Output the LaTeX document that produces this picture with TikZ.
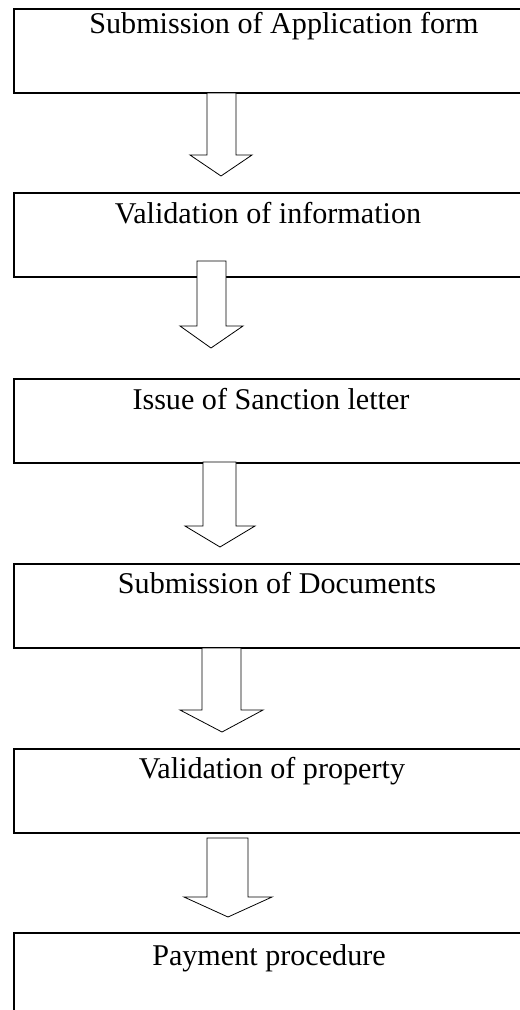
\documentclass[tikz,border=0pt]{standalone}
\usepackage{fontspec}
\setmainfont{Liberation Serif}
\usetikzlibrary{positioning}
\tikzset{
  stagebox/.style={draw, line width=1pt, rectangle, minimum width=387pt,
    minimum height=63pt, inner sep=0pt, outer sep=0pt},
  stagetext/.style={anchor=base, inner sep=0pt, font=\fontsize{22.6}{27}\selectfont},
  blockarrow/.style={draw, line width=0.6pt, fill=white, line join=miter}
}
\begin{document}
\begin{tikzpicture}[x=0.75pt, y=-0.75pt]
\clip (0,0) rectangle (520,1010);
% stage boxes (right side runs off the page)
\node[stagebox] (s1) at (272,51) {};
\node[stagebox] (s2) at (272,235) {};
\node[stagebox] (s3) at (272,421) {};
\node[stagebox] (s4) at (272,606) {};
\node[stagebox] (s5) at (272,791) {};
\node[stagebox] (s6) at (272,975) {};
% stage titles
\node[stagetext] (t1) at (284,33) {Submission of Application form};
\node[stagetext] (t2) at (268,223) {Validation of information};
\node[stagetext] (t3) at (271,409) {Issue of Sanction letter};
\node[stagetext] (t4) at (277,593) {Submission of Documents};
\node[stagetext] (t5) at (272,778) {Validation of property};
\node[stagetext] (t6) at (269,965) {Payment procedure};
% hollow down arrows
\draw[blockarrow] (207,93) -- (207,155) -- (190,155) -- (221,176)
  -- (252,155) -- (236,155) -- (236,93) -- cycle;
\draw[blockarrow] (197,261) -- (197,326) -- (180,326) -- (211,348)
  -- (243,326) -- (226,326) -- (226,261) -- cycle;
\draw[blockarrow] (203,462) -- (203,526) -- (185,526) -- (220,547)
  -- (255,526) -- (236,526) -- (236,462) -- cycle;
\draw[blockarrow] (202,648) -- (202,710) -- (180,710) -- (222,732)
  -- (263,710) -- (241,710) -- (241,648) -- cycle;
\draw[blockarrow] (207,838) -- (207,897) -- (184,897) -- (228,917)
  -- (272,897) -- (248,897) -- (248,838) -- cycle;
\end{tikzpicture}
\end{document}
